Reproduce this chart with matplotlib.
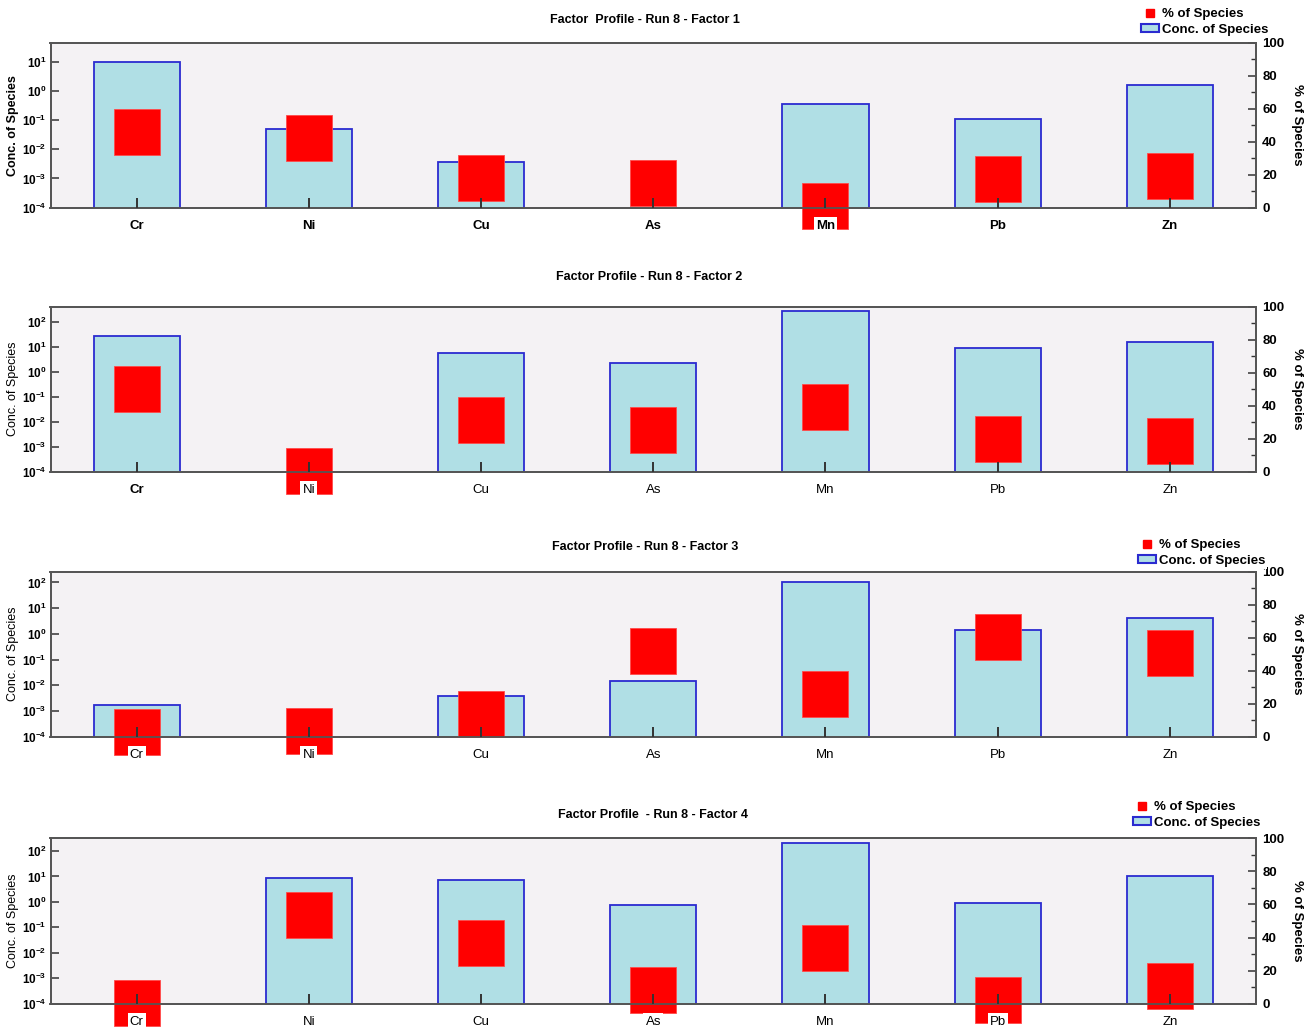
import numpy as np
import matplotlib
matplotlib.use("Agg")
import matplotlib.pyplot as plt
from matplotlib.ticker import FixedLocator, FuncFormatter, MultipleLocator, NullLocator
from matplotlib.lines import Line2D
from matplotlib.patches import Patch

# ---------------- data ----------------
species = ["Cr", "Ni", "Cu", "As", "Mn", "Pb", "Zn"]

titles = [
    "Factor  Profile - Run 8 - Factor 1",
    "Factor Profile - Run 8 - Factor 2",
    "Factor Profile - Run 8 - Factor 3",
    "Factor Profile  - Run 8 - Factor 4",
]

# concentration of species (log axis); 0 = no bar
conc_f1 = [9.5, 0.049, 0.0036, 0.0, 0.35, 0.105, 1.6]
conc_f2 = [28.0, 0.0, 5.6, 2.3, 277.0, 9.1, 16.0]
conc_f3 = [0.00166, 0.0, 0.0038, 0.015, 100.0, 1.4, 4.1]
conc_f4 = [0.0, 9.1, 7.4, 0.74, 213.0, 0.93, 10.3]

# percentage of species apportioned to each factor
pct_f1 = [46.0, 42.5, 18.2, 15.0, 1.3, 17.6, 19.4]
pct_f2 = [50.2, 0.2, 31.2, 25.2, 39.5, 19.7, 18.8]
pct_f3 = [2.8, 3.6, 14.0, 51.8, 25.6, 60.3, 50.6]
pct_f4 = [0.3, 53.7, 36.5, 8.3, 33.4, 2.0, 10.9]

# ---------------- style ----------------
plt.rcParams["font.family"] = ["Liberation Sans", "DejaVu Sans"]
plt.rcParams["mathtext.fontset"] = "custom"
plt.rcParams["mathtext.rm"] = "Liberation Sans"
plt.rcParams["mathtext.bf"] = "Liberation Sans:bold"

W, H = 1314, 1033
BAR_FACE = "#b0dfe5"
BAR_EDGE = "#2b2bd0"
PCT_RED = "#ff0000"
PLOT_BG = "#f4f2f4"
SPINE = "#555555"

fig = plt.figure(figsize=(W / 100, H / 100), dpi=100)

AX_LEFT, AX_RIGHT = 50.5, 1256.0

panels = [
    dict(conc=conc_f1, pct=pct_f1, title=titles[0], top=42.7, bottom=207.7,
         ymax_exp=1.65, tick_max=1, title_xy=(645, 20), legend_xy=(1139, 6),
         bold_x=[True] * 7, bold_ylabel=True),
    dict(conc=conc_f2, pct=pct_f2, title=titles[1], top=306.7, bottom=471.7,
         ymax_exp=2.6, tick_max=2, title_xy=(649, 277), legend_xy=None,
         bold_x=[True, False, False, False, False, False, False], bold_ylabel=False),
    dict(conc=conc_f3, pct=pct_f3, title=titles[2], top=571.7, bottom=736.7,
         ymax_exp=2.42, tick_max=2, title_xy=(645, 547), legend_xy=(1136, 537),
         bold_x=[False] * 7, bold_ylabel=False),
    dict(conc=conc_f4, pct=pct_f4, title=titles[3], top=838.3, bottom=1003.7,
         ymax_exp=2.5, tick_max=2, title_xy=(653, 815), legend_xy=(1131, 799),
         bold_x=[False] * 7, bold_ylabel=False),
]

x = np.arange(len(species))
log_fmt = FuncFormatter(lambda v, p: r"$\mathbf{10^{%d}}$" % int(round(np.log10(v))))

for pnl in panels:
    rect = [AX_LEFT / W, 1 - pnl["bottom"] / H,
            (AX_RIGHT - AX_LEFT) / W, (pnl["bottom"] - pnl["top"]) / H]
    ax = fig.add_axes(rect)
    ax.set_facecolor(PLOT_BG)

    conc = np.asarray(pnl["conc"], dtype=float)
    has_bar = conc > 0
    ax.bar(x[has_bar], conc[has_bar], width=0.5, bottom=1e-8,
           color=BAR_FACE, edgecolor=BAR_EDGE, linewidth=1.3)

    ax.set_yscale("log")
    ax.set_xlim(-0.5, len(species) - 0.5)
    ax.set_ylim(1e-4, 10 ** pnl["ymax_exp"])
    ax.yaxis.set_major_locator(FixedLocator([10.0 ** k for k in range(-4, pnl["tick_max"] + 1)]))
    ax.yaxis.set_minor_locator(NullLocator())
    ax.yaxis.set_major_formatter(log_fmt)
    ax.tick_params(axis="y", direction="in", length=6, width=1.1, color="#333333",
                   labelsize=8.5, pad=3)
    ax.tick_params(axis="x", bottom=False, labelbottom=False)
    for s in ax.spines.values():
        s.set_color(SPINE)
        s.set_linewidth(1.3)
    ax.set_ylabel("Conc. of Species", fontsize=9,
                  fontweight="bold" if pnl["bold_ylabel"] else "normal")
    ax.yaxis.set_label_coords((19 - AX_LEFT) / (AX_RIGHT - AX_LEFT), 0.5)

    # percentage axis with large square markers
    ax2 = ax.twinx()
    ax2.set_ylim(0, 100)
    ax2.plot(x, pnl["pct"], linestyle="none", marker="s", markersize=32.5,
             markerfacecolor=PCT_RED, markeredgecolor="#ff4a4a", markeredgewidth=0.6,
             clip_on=False, zorder=2)
    ax2.yaxis.set_major_locator(MultipleLocator(20))
    ax2.yaxis.set_minor_locator(MultipleLocator(10))
    ax2.tick_params(axis="y", which="major", direction="in", length=6, width=1.1,
                    color="#333333", labelsize=9.5, pad=4.5)
    ax2.tick_params(axis="y", which="minor", direction="in", length=3.5, width=1.0,
                    color="#333333")
    for lab in ax2.get_yticklabels():
        lab.set_fontweight("bold")
    for s in ax2.spines.values():
        s.set_color(SPINE)
        s.set_linewidth(1.3)
    ax2.set_ylabel("% of Species", rotation=270, fontsize=9.5, fontweight="bold",
                   va="center")
    ax2.yaxis.set_label_coords((1297 - AX_LEFT) / (AX_RIGHT - AX_LEFT), 0.5)

    # category labels drawn on the twin axes so they sit above the markers
    ax2.xaxis.set_visible(True)
    ax2.xaxis.set_zorder(3)
    ax2.set_xticks(x)
    ax2.set_xticklabels(species)
    ax2.tick_params(axis="x", bottom=True, top=False, labelbottom=True, labeltop=False,
                    direction="in", length=7, width=1.4, color="#333333",
                    labelsize=9.5, pad=8.5)
    for lab, bold in zip(ax2.get_xticklabels(), pnl["bold_x"]):
        lab.set_fontweight("bold" if bold else "normal")
        lab.set_bbox(dict(facecolor="white", edgecolor="none", pad=1.5))

    fig.text(pnl["title_xy"][0] / W, 1 - pnl["title_xy"][1] / H, pnl["title"],
             ha="center", va="center", fontsize=9, fontweight="bold")

    if pnl["legend_xy"] is not None:
        handles = [
            Line2D([], [], linestyle="none", marker="s", markersize=5.5,
                   markerfacecolor=PCT_RED, markeredgecolor=PCT_RED),
            Patch(facecolor=BAR_FACE, edgecolor=BAR_EDGE, linewidth=1.5),
        ]
        fig.legend(handles, ["% of Species", "Conc. of Species"], loc="upper left",
                   bbox_to_anchor=(pnl["legend_xy"][0] / W, 1 - pnl["legend_xy"][1] / H),
                   frameon=True, facecolor="white", edgecolor="none", framealpha=1,
                   fancybox=False, prop=dict(weight="bold", size=9.5),
                   handlelength=1.4, handleheight=0.6, handletextpad=0.2,
                   labelspacing=0.3, borderpad=0.15, borderaxespad=0)

fig.savefig("out.png", dpi=100, facecolor="white")
